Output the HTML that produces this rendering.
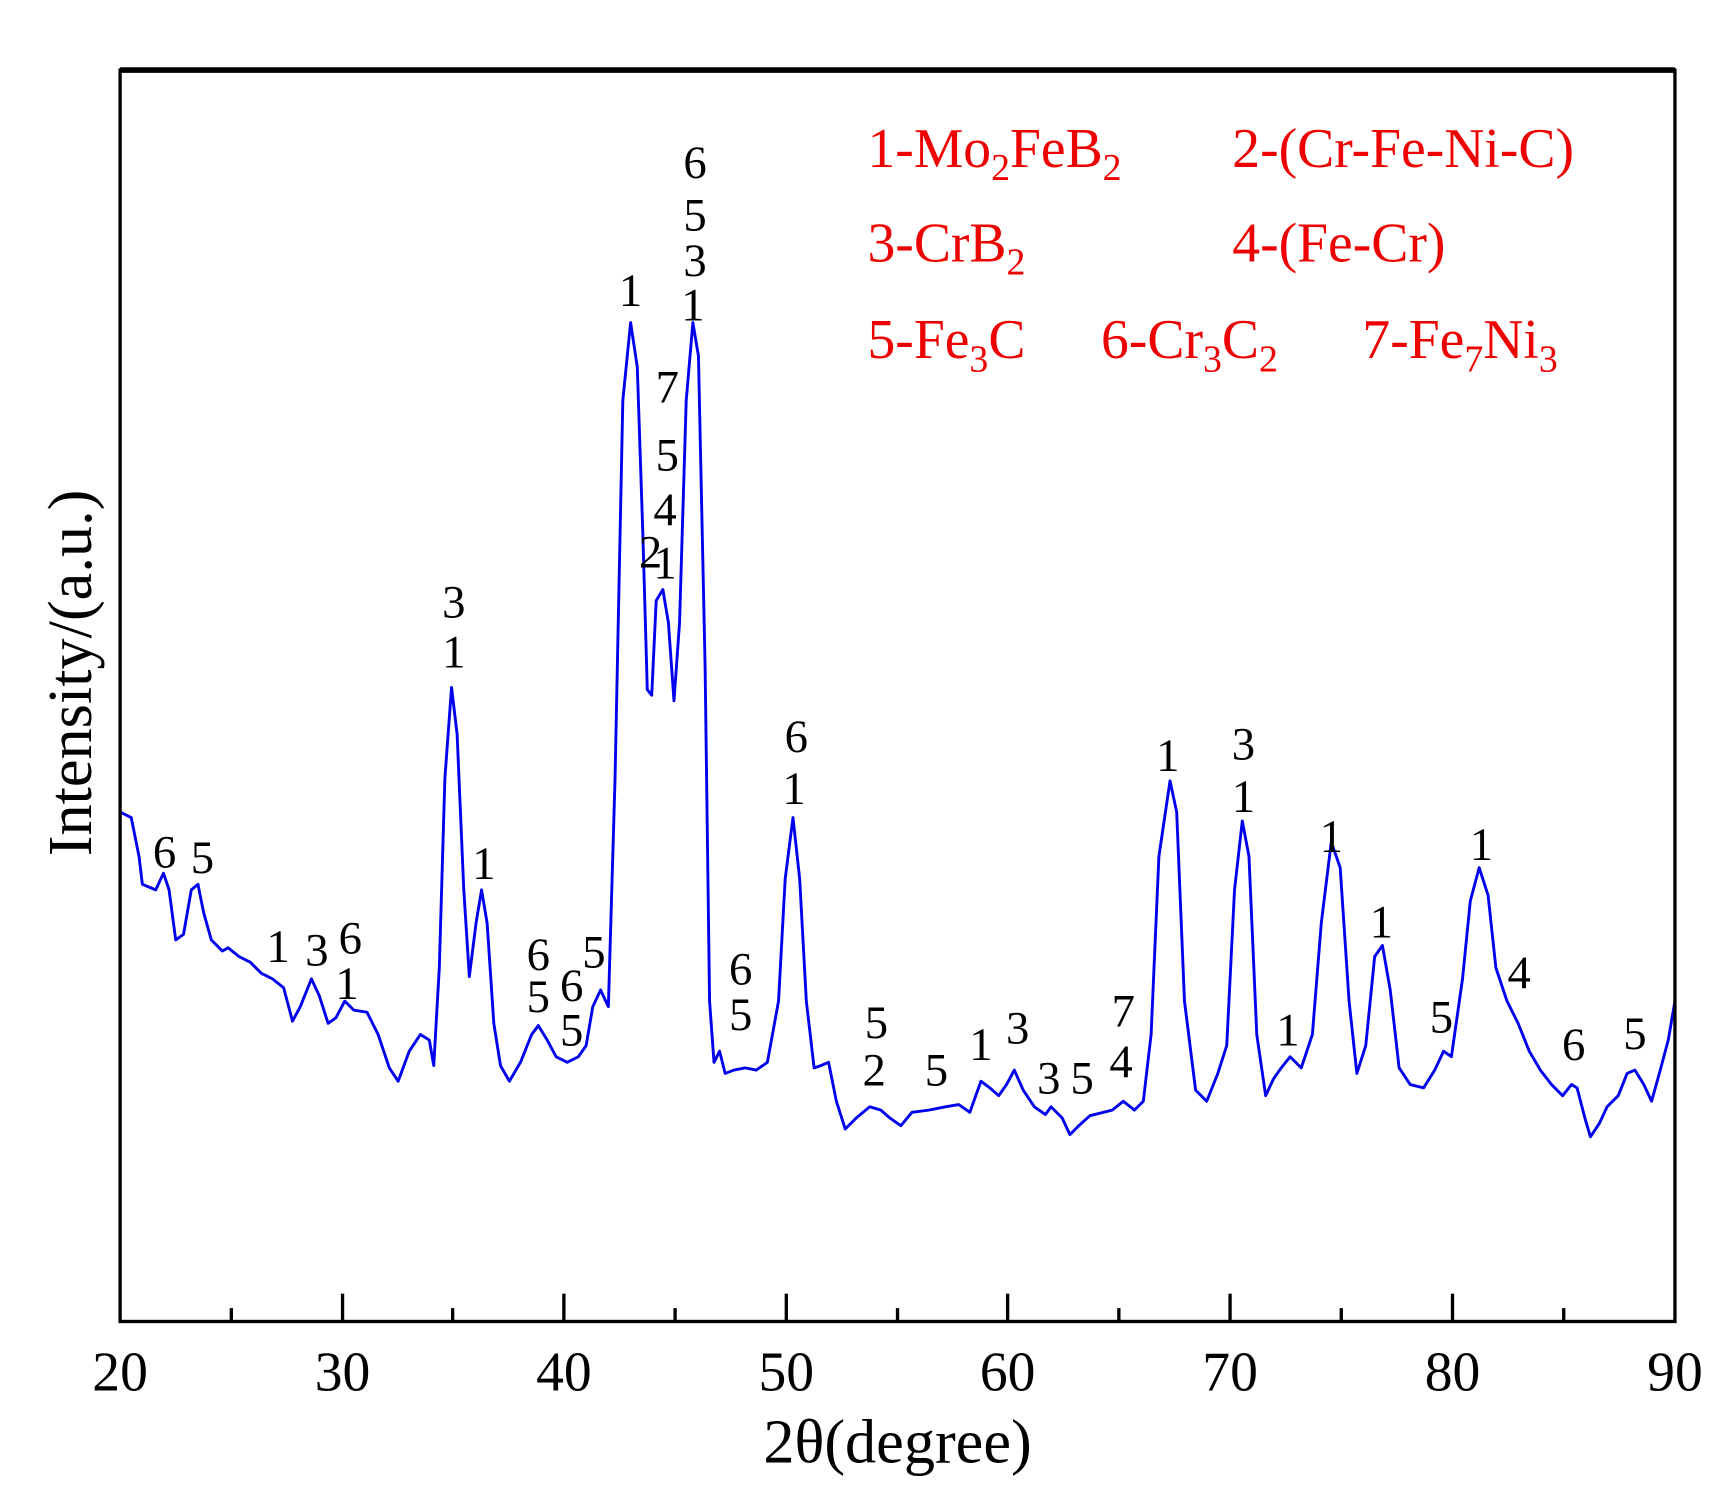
<!DOCTYPE html>
<html><head><meta charset="utf-8"><style>html,body{margin:0;padding:0;background:#fff}svg{display:block}</style></head>
<body>
<svg width="1735" height="1495" viewBox="0 0 1560 1344" preserveAspectRatio="none" xmlns="http://www.w3.org/2000/svg" font-family="Liberation Serif, serif">
<rect x="0" y="0" width="1560" height="1344" fill="#fff"/>
<polyline fill="none" stroke="#0000ee" stroke-width="2.6" stroke-linejoin="round" points="108,730 118,735 125,770 128,795 140,800 147,785 152,800 158,845 165,840 172,800 178,795 183,820 190,845 200,855 205,852 215,860 225,865 235,875 245,880 255,888 263,918 270,905 280,880 287,895 295,920 302,915 310,900 318,908 330,910 340,930 350,960 358,972 368,945 378,930 386,935 390,958 395,870 400,700 406,618 411,660 417,800 422,878 428,830 433,800 438,830 444,920 450,958 458,972 468,955 478,930 484,922 492,935 500,950 510,955 520,950 527,940 533,905 540,890 547,905 553,700 560,360 567,290 573,330 578,480 582,620 586,625 590,540 596,530 601,560 606,630 611,560 617,360 623,290 628,320 634,600 638,900 642,955 647,945 652,965 660,962 670,960 680,962 690,955 700,900 706,790 713,735 719,790 725,900 732,960 738,958 745,955 752,990 760,1015 770,1005 782,995 792,998 800,1005 810,1012 820,1000 835,998 850,995 862,993 872,1000 882,972 890,978 898,985 905,975 912,962 920,980 930,995 940,1002 945,995 955,1005 962,1020 970,1012 980,1003 1000,998 1010,990 1020,998 1028,990 1035,930 1042,770 1052,702 1058,730 1065,900 1075,980 1085,990 1095,965 1103,940 1110,800 1117,738 1123,770 1130,930 1138,985 1145,970 1152,960 1160,950 1170,960 1180,930 1188,830 1197,757 1205,780 1213,900 1220,965 1228,940 1236,860 1243,850 1250,890 1258,960 1268,975 1280,978 1290,962 1298,945 1305,950 1315,880 1322,810 1330,780 1338,805 1345,870 1355,900 1365,920 1375,945 1385,962 1395,975 1405,985 1413,975 1418,978 1425,1005 1430,1022 1438,1010 1445,995 1455,985 1463,965 1470,962 1478,975 1485,990 1492,965 1500,935 1506,900"/>
<rect x="108" y="63" width="1398" height="1125" fill="none" stroke="#000" stroke-width="3"/>
<line x1="108" y1="63" x2="1506" y2="63" stroke="#000" stroke-width="5"/>
<g stroke="#000" stroke-width="3">
<line x1="308" y1="1188" x2="308" y2="1163"/><line x1="507" y1="1188" x2="507" y2="1163"/><line x1="707" y1="1188" x2="707" y2="1163"/><line x1="906" y1="1188" x2="906" y2="1163"/><line x1="1106" y1="1188" x2="1106" y2="1163"/><line x1="1306" y1="1188" x2="1306" y2="1163"/>
<line x1="208" y1="1188" x2="208" y2="1176"/><line x1="407" y1="1188" x2="407" y2="1176"/><line x1="607" y1="1188" x2="607" y2="1176"/><line x1="807" y1="1188" x2="807" y2="1176"/><line x1="1006" y1="1188" x2="1006" y2="1176"/><line x1="1206" y1="1188" x2="1206" y2="1176"/><line x1="1406" y1="1188" x2="1406" y2="1176"/>
</g>
<g font-size="50" text-anchor="middle" fill="#000">
<text x="108" y="1250">20</text><text x="308" y="1250">30</text><text x="507" y="1250">40</text><text x="707" y="1250">50</text><text x="906" y="1250">60</text><text x="1106" y="1250">70</text><text x="1306" y="1250">80</text><text x="1506" y="1250">90</text>
</g>
<text x="807" y="1315" font-size="56" text-anchor="middle">2θ(degree)</text>
<text transform="translate(82,605) rotate(-90)" font-size="56" text-anchor="middle">Intensity/(a.u.)</text>
<g font-size="50" fill="#ee0000">
<text x="780" y="150">1-Mo<tspan font-size="34" dy="12">2</tspan><tspan dy="-12">FeB</tspan><tspan font-size="34" dy="12">2</tspan></text>
<text x="1108" y="150">2-(Cr-Fe-Ni-C)</text>
<text x="780" y="235">3-CrB<tspan font-size="34" dy="12">2</tspan></text>
<text x="1108" y="235">4-(Fe-Cr)</text>
<text x="780" y="322">5-Fe<tspan font-size="34" dy="12">3</tspan><tspan dy="-12">C</tspan></text>
<text x="990" y="322">6-Cr<tspan font-size="34" dy="12">3</tspan><tspan dy="-12">C</tspan><tspan font-size="34" dy="12">2</tspan></text>
<text x="1225" y="322">7-Fe<tspan font-size="34" dy="12">7</tspan><tspan dy="-12">Ni</tspan><tspan font-size="34" dy="12">3</tspan></text>
</g>
<g font-size="42" text-anchor="middle" fill="#000">
<text x="148" y="780">6</text><text x="182" y="785">5</text><text x="250" y="865">1</text><text x="285" y="868">3</text><text x="315" y="857">6</text><text x="312" y="898">1</text>
<text x="408" y="555">3</text><text x="408" y="600">1</text><text x="435" y="790">1</text>
<text x="484" y="872">6</text><text x="484" y="910">5</text><text x="514" y="900">6</text><text x="514" y="940">5</text><text x="534" y="870">5</text>
<text x="567" y="275">1</text><text x="625" y="160">6</text><text x="625" y="207">5</text><text x="625" y="248">3</text><text x="623" y="288">1</text>
<text x="600" y="362">7</text><text x="600" y="423">5</text><text x="598" y="472">4</text><text x="585" y="510">2</text><text x="598" y="520">1</text>
<text x="666" y="885">6</text><text x="666" y="926">5</text><text x="716" y="676">6</text><text x="714" y="723">1</text>
<text x="788" y="933">5</text><text x="786" y="976">2</text><text x="842" y="976">5</text><text x="882" y="953">1</text><text x="915" y="938">3</text><text x="943" y="983">3</text><text x="973" y="983">5</text><text x="1010" y="923">7</text><text x="1008" y="968">4</text>
<text x="1050" y="693">1</text><text x="1118" y="683">3</text><text x="1118" y="730">1</text><text x="1158" y="940">1</text><text x="1197" y="766">1</text><text x="1242" y="843">1</text>
<text x="1296" y="928">5</text><text x="1332" y="773">1</text><text x="1366" y="888">4</text><text x="1415" y="953">6</text><text x="1470" y="943">5</text>
</g>
</svg>
</body></html>
